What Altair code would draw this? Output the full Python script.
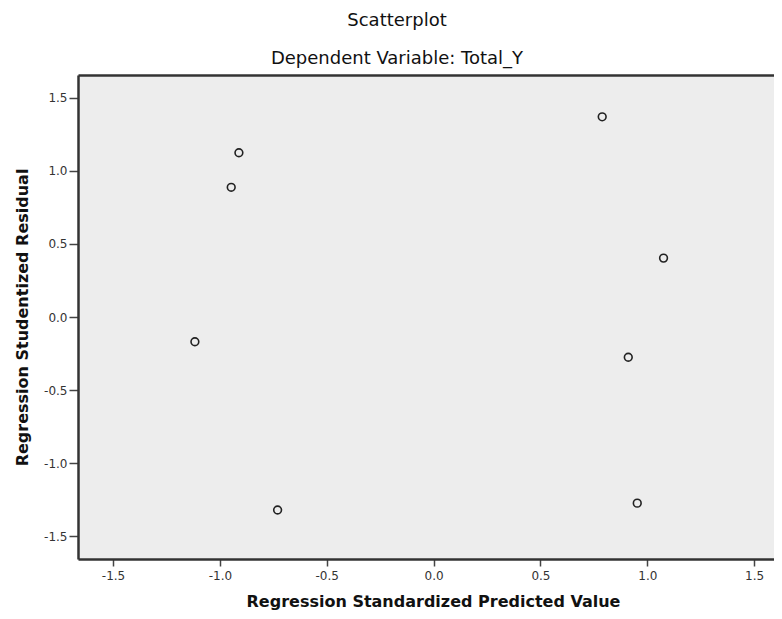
import altair as alt
import pandas as pd

# Regression Standardized Predicted Value (x) and Studentized Residual (y)
predicted = [-0.911, -0.947, -1.117, -0.730, 0.789, 1.076, 0.911, 0.953]
residual = [1.123, 0.887, -0.169, -1.320, 1.369, 0.403, -0.275, -1.273]

x_ticks = [-1.5, -1.0, -0.5, 0.0, 0.5, 1.0, 1.5]
y_ticks = [-1.5, -1.0, -0.5, 0.0, 0.5, 1.0, 1.5]

df = pd.DataFrame({"pred": predicted, "resid": residual})

W, H = 696, 484
FONT = "DejaVu Sans"
LABEL_EXPR = "datum.value < 0 ? '-' + format(-datum.value, '.1f') : format(datum.value, '.1f')"

xscale = alt.Scale(domain=[-1.664, -1.664 + W / 213.7], nice=False, zero=False)
yscale = alt.Scale(domain=[-1.655, 1.655], nice=False, zero=False)

points = alt.Chart(df).mark_point(
    shape="circle", filled=False, color="#222222", size=60, strokeWidth=1.6, opacity=1
).encode(
    x=alt.X(
        "pred:Q",
        scale=xscale,
        axis=alt.Axis(
            values=x_ticks, labelExpr=LABEL_EXPR, orient="bottom",
            title="Regression Standardized Predicted Value",
            titleFontSize=16, titleFontWeight="bold", titleFont=FONT, titleColor="#111111",
            titleX=355, titleY=42, titleBaseline="middle", titleAlign="center",
            labelFont=FONT, labelFontSize=12, labelColor="#333333", labelPadding=4,
            tickSize=7, tickColor="#444444", tickWidth=1.5,
            domainColor="#333333", domainWidth=2.5, grid=False,
        ),
    ),
    y=alt.Y(
        "resid:Q",
        scale=yscale,
        axis=alt.Axis(
            values=y_ticks, labelExpr=LABEL_EXPR,
            title="Regression Studentized Residual",
            titleFontSize=16, titleFontWeight="bold", titleFont=FONT, titleColor="#111111",
            titleX=-56, titleY=H / 2, titleAngle=-90, titleBaseline="middle", titleAlign="center",
            labelFont=FONT, labelFontSize=12, labelColor="#333333", labelPadding=2,
            tickSize=9, tickColor="#444444", tickWidth=1.5,
            domainColor="#333333", domainWidth=2.5, grid=False,
        ),
    ),
)

top_frame = alt.Chart(df).mark_point(opacity=0).encode(
    x=alt.X(
        "pred:Q",
        scale=xscale,
        axis=alt.Axis(orient="top", labels=False, ticks=False, title=None,
                      domainColor="#333333", domainWidth=2.5, grid=False),
    ),
    y=alt.Y("resid:Q", scale=yscale, axis=None),
)

chart = alt.layer(points, top_frame).resolve_axis(x="independent", y="independent").properties(
    width=W,
    height=H,
    view=alt.ViewBackground(fill="#EDEDED"),
    autosize=alt.AutoSizeParams(type="none"),
    padding={"left": 70, "top": 67, "right": 0, "bottom": 52},
    title=alt.TitleParams(
        text="Scatterplot",
        subtitle="Dependent Variable: Total_Y",
        anchor="middle",
        dx=-29,
        offset=7,
        font=FONT, fontSize=18, fontWeight="normal", color="#111111",
        subtitleFont=FONT, subtitleFontSize=18, subtitleColor="#111111",
        subtitlePadding=20,
    ),
).configure_view(fill="#EDEDED", stroke=None).configure(background="white")

chart.save("out.html", embed_options={"renderer": "svg", "actions": False})
